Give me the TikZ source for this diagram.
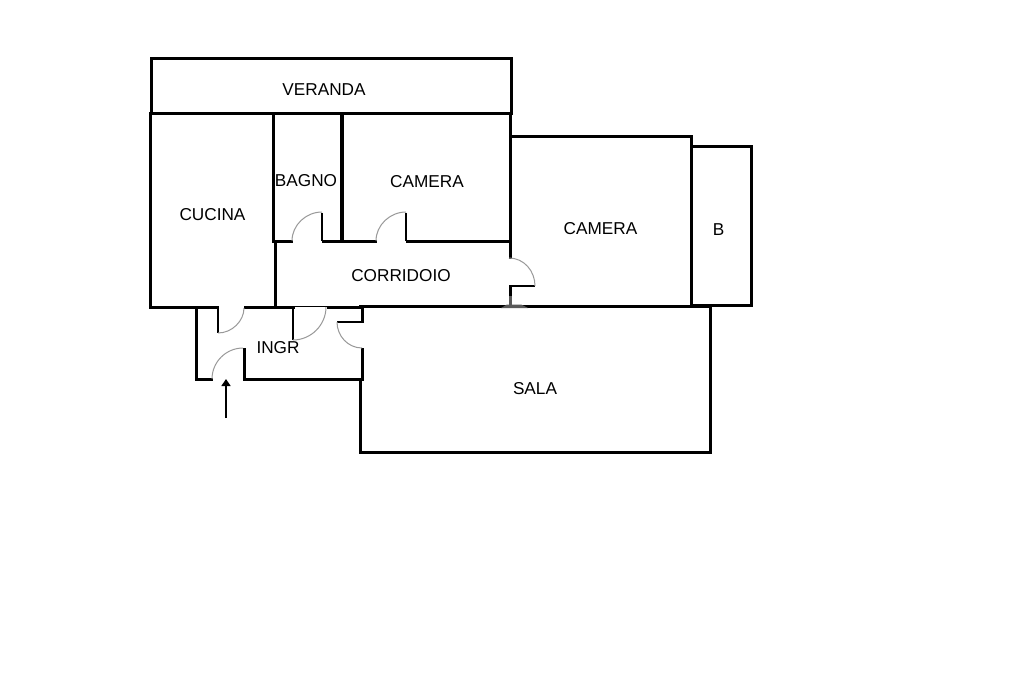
\documentclass[tikz,border=0pt]{standalone}
\usepackage{fontspec}
\setmainfont{Liberation Sans}
\usetikzlibrary{arrows.meta}
\tikzset{
 wall/.style={draw=black,line width=3pt,line cap=rect,line join=miter},
 thick wall/.style={wall,line width=3.5pt},
 door leaf/.style={draw=black,line width=2pt,line cap=butt},
 thin leaf/.style={draw=black,line width=1.5pt,line cap=butt},
 swing/.style={draw=black!40,line width=1pt},
 lbl/.style={inner sep=0pt,font=\fontsize{17.2}{20}\selectfont,text=black}
}
\begin{document}
\begin{tikzpicture}[x=1pt,y=-1pt]
\useasboundingbox (0,0) rectangle (1024,682);
\fill[white] (0,0) rectangle (1024,682);
% veranda
\draw[wall] (151,114) -- (151,58.5) -- (511,58.5) -- (511,114);
\draw[wall] (151,114) -- (511,114);
% cucina
\draw[wall] (150.5,114) -- (150.5,307.5) -- (217,307.5);
\draw[wall] (245,307.5) -- (293,307.5);
% bagno and camera
\draw[wall] (273,114) -- (273,241) -- (291,241);
\draw[thick wall] (342,114) -- (342,241);
\draw[wall] (323,241) -- (375,241);
\draw[wall] (407,241) -- (510,241);
\draw[wall] (275,241) -- (275,306);
\draw[wall] (510.5,114) -- (510.5,257);
\draw[wall] (510.5,288) -- (510.5,305);
% east camera and bath
\draw[wall] (511,136) -- (691.5,136) -- (691.5,306);
\draw[wall] (691.5,146.5) -- (751.5,146.5) -- (751.5,305.5) -- (691.5,305.5);
% sala
\draw[wall] (328,307) -- (360,307);
\draw[wall] (360,306) -- (710.5,306) -- (710.5,452) -- (360.5,452) -- (360.5,380);
% ingresso
\draw[wall] (362,306) -- (362,321);
\draw[wall] (362,349) -- (362,379.5) -- (244,379.5) -- (244,349);
\draw[wall] (196,307) -- (196,379.5) -- (211,379.5);
% thresholds and leaves
\draw[thin leaf] (293,306.5) -- (327,306.5);
\draw[door leaf,line width=2.5pt] (322,213) -- (322,241);
\draw[door leaf,line width=2.5pt] (406,213) -- (406,241);
\draw[thin leaf] (509,286) -- (535,286);
\draw[door leaf] (218,308) -- (218,333);
\draw[door leaf] (293,308) -- (293,340);
\draw[door leaf] (363,322) -- (337,322);
% door swings
\draw[swing] (218,333) .. controls (232,333) and (244,321) .. (244,308);
\draw[swing] (293,340) .. controls (311,340) and (326,325) .. (326,307);
\draw[swing] (337,322) .. controls (337,336) and (348,348) .. (362,348);
\draw[swing] (212,379) .. controls (212,362) and (226,348) .. (243,348);
\draw[swing] (292,241) .. controls (292,225) and (306,212) .. (322,212);
\draw[swing] (376,241) .. controls (376,225) and (390,212) .. (406,212);
\draw[swing] (509,258) .. controls (524,258) and (535,271) .. (535,286);
% faded patch on the wall
\fill[black!65] (501,308) -- (507,304.5) -- (521,304.5) -- (528,308) -- cycle;
\fill[black!65] (509,296) rectangle (512,305);
% entrance arrow
\coordinate (arrowtail) at (226,418);
\coordinate (arrowhead) at (226,379);
\draw[line width=1.5pt,-{Triangle[length=7pt,width=9pt]}] (arrowtail) -- (arrowhead);
% labels
\node[lbl] (veranda) at (324,89.5) {VERANDA};
\node[lbl] (bagno) at (306,180.5) {BAGNO};
\node[lbl] (camera1) at (427,181.5) {CAMERA};
\node[lbl] (cucina) at (212.5,214.5) {CUCINA};
\node[lbl] (camera2) at (600.5,228.5) {CAMERA};
\node[lbl] (b) at (718.5,229.5) {B};
\node[lbl] (corridoio) at (401,275.5) {CORRIDOIO};
\node[lbl] (ingr) at (278,347.5) {INGR};
\node[lbl] (sala) at (535,388.5) {SALA};
\end{tikzpicture}
\end{document}
